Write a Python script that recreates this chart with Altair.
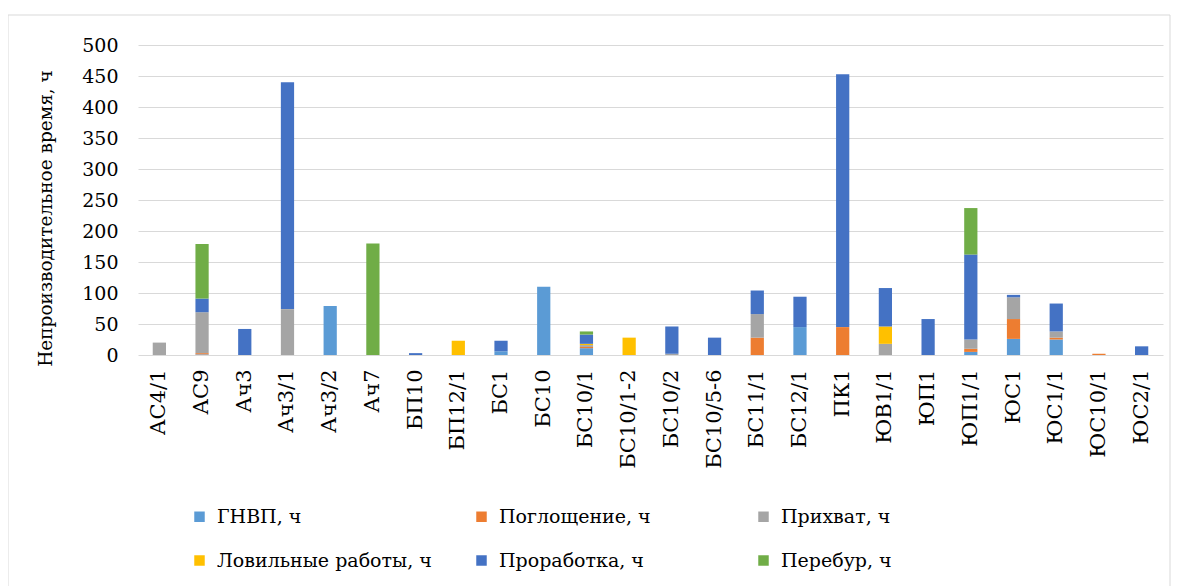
import altair as alt
import pandas as pd

categories = ["АС4/1", "АС9", "Ач3", "Ач3/1", "Ач3/2", "Ач7", "БП10", "БП12/1", "БС1", "БС10",
              "БС10/1", "БС10/1-2", "БС10/2", "БС10/5-6", "БС11/1", "БС12/1", "ПК1", "ЮВ1/1",
              "ЮП1", "ЮП1/1", "ЮС1", "ЮС1/1", "ЮС10/1", "ЮС2/1"]

series_names = ["ГНВП, ч", "Поглощение, ч", "Прихват, ч", "Ловильные работы, ч", "Проработка, ч", "Перебур, ч"]
series_colors = ["#5B9BD5", "#ED7D31", "#A5A5A5", "#FFC000", "#4472C4", "#70AD47"]

gnvp =        [0, 1, 0, 0, 79, 0, 0, 0, 6, 110, 11, 0, 0, 0, 0, 45, 0, 0, 0, 5, 26, 25, 0, 0]
pogloschenie = [0, 2, 0, 0, 0, 0, 0, 0, 0, 0, 2, 0, 0, 0, 28, 0, 45, 0, 0, 5, 32, 3, 2, 0]
prihvat =     [20, 66, 0, 74, 0, 0, 0, 0, 0, 0, 3, 0, 2, 0, 38, 0, 0, 18, 0, 15, 35, 10, 0, 0]
lovilnye =    [0, 0, 0, 0, 0, 0, 0, 23, 0, 0, 2, 28, 0, 0, 0, 0, 0, 28, 0, 0, 0, 0, 0, 0]
prorabotka =  [0, 22, 42, 366, 0, 0, 3, 0, 17, 0, 15, 0, 44, 28, 38, 49, 408, 62, 58, 137, 4, 45, 0, 14]
perebur =     [0, 88, 0, 0, 0, 180, 0, 0, 0, 0, 5, 0, 0, 0, 0, 0, 0, 0, 0, 75, 0, 0, 0, 0]

y_ticks = [0, 50, 100, 150, 200, 250, 300, 350, 400, 450, 500]

all_series = [gnvp, pogloschenie, prihvat, lovilnye, prorabotka, perebur]
rows = []
for si, (name, vals) in enumerate(zip(series_names, all_series)):
    for cat, v in zip(categories, vals):
        rows.append({"cat": cat, "series": name, "order": si, "value": v})
df = pd.DataFrame(rows)

FONT = "DejaVu Serif"

bars = alt.Chart(df).mark_bar().encode(
    x=alt.X("cat:N", sort=categories, title=None,
            scale=alt.Scale(paddingInner=0.69, paddingOuter=0.345),
            axis=alt.Axis(labelAngle=-90, labelFontSize=21, labelFont=FONT, labelColor="#000000",
                          labelPadding=14, ticks=False, domain=False, labelBaseline="middle",
                          labelAlign="right")),
    y=alt.Y("value:Q", title="Непроизводительное время, ч",
            scale=alt.Scale(domain=[0, 500], nice=False),
            axis=alt.Axis(values=y_ticks, labelFontSize=19, labelFont=FONT, labelColor="#000000",
                          titleFontSize=18.5, titleFont=FONT, titleColor="#000000", titleFontWeight="normal",
                          titleY=173, titleAlign="center",
                          labelPadding=20, titlePadding=26, ticks=False, domain=False,
                          grid=True, gridColor="#D9D9D9", gridWidth=1)),
    color=alt.Color("series:N", scale=alt.Scale(domain=series_names, range=series_colors),
                    title=None,
                    legend=alt.Legend(orient="none", legendX=52, legendY=462, columns=3,
                                      direction="horizontal",
                                      gridAlign="all", columnPadding=40, rowPadding=24,
                                      symbolType="square", symbolSize=110, symbolStrokeWidth=0,
                                      labelFontSize=19, labelFont=FONT, labelColor="#000000",
                                      labelLimit=300, symbolOffset=0, labelOffset=8)),
    order=alt.Order("order:Q", sort="ascending"),
)

frame = alt.Chart(alt.Data(values=[{}])).mark_rect(fill=None, stroke="#D9D9D9", strokeWidth=1).encode(
    x=alt.value(-130), x2=alt.value(1032), y=alt.value(-30), y2=alt.value(560)
)

chart = alt.layer(frame, bars).properties(
    width=1025, height=310,
    autosize=alt.AutoSizeParams(type="none"),
    padding={"left": 130, "top": 37, "right": 8, "bottom": 233},
    background="#FFFFFF",
).configure(font=FONT).configure_view(stroke=None)

chart.save("out.html", embed_options={"renderer": "svg", "actions": False})
